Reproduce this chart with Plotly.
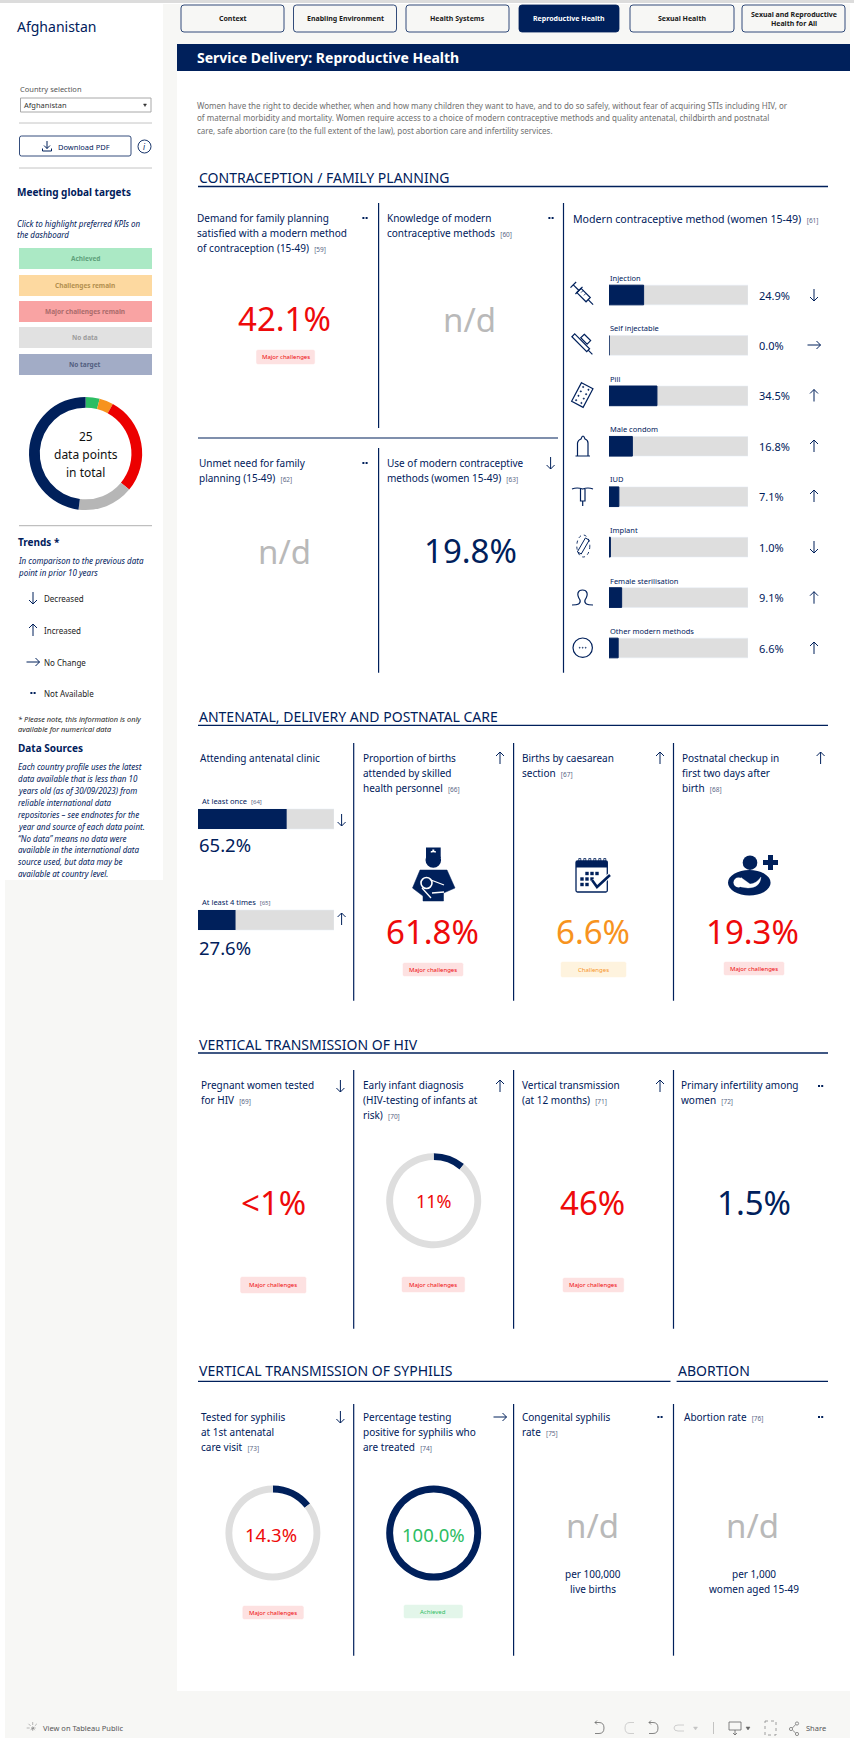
"""
Country profile dashboard: Service Delivery, Reproductive Health (Afghanistan).
Page layout is in pixels on the main axes; bars and rings have their own axes/domains.
"""
import math
import plotly.graph_objects as go

W, H = 854, 1742
NAVY, RED, ORANGE, GREEN = '#00205b', '#ee0a0a', '#f7931e', '#2dbd63'
GREY_TXT, ND, TRACK = '#6f6f6f', '#b9b9b9', '#dedede'
BG = '#f7f7f5'
FONT = 'Noto Sans'

# data
tab_labels = ['Context', 'Enabling Environment', 'Health Systems', 'Reproductive Health',
              'Sexual Health', 'Sexual and Reproductive<br>Health for All']
target_labels = ['Achieved', 'Challenges remain', 'Major challenges remain', 'No data', 'No target']
donut_counts = [1, 1, 7, 4, 12]

method_names = ['Injection', 'Self injectable', 'Pill', 'Male condom', 'IUD', 'Implant',
                'Female sterilisation', 'Other modern methods']
method_shares = [24.9, 0.0, 34.5, 16.8, 7.1, 1.0, 9.1, 6.6]
method_trends = ['down', 'flat', 'up', 'up', 'up', 'down', 'up', 'up']

antenatal_names = ['At least once', 'At least 4 times']
antenatal_shares = [65.2, 27.6]
antenatal_refs = ['[64]', '[65]']
antenatal_trends = ['down', 'up']

early_infant_pct = 11
syphilis_tested_pct = 14.3
syphilis_treated_pct = 100.0

shapes, notes = [], []


def txt(x, y, s, size=10, color=NAVY, anchor='left', bold=False, italic=False):
    if bold:
        s = f'<b>{s}</b>'
    if italic:
        s = f'<i>{s}</i>'
    notes.append(dict(x=x, y=y, xref='x', yref='y', text=s, showarrow=False, xanchor=anchor,
                      yanchor='middle', borderpad=0, font=dict(family=FONT, size=size, color=color)))


def rect(x0, y0, x1, y1, fill=None, line=None, lw=1, layer='below'):
    shapes.append(dict(type='rect', x0=x0, y0=y0, x1=x1, y1=y1, xref='x', yref='y', layer=layer,
                       fillcolor=fill or 'rgba(0,0,0,0)',
                       line=dict(color=line or 'rgba(0,0,0,0)', width=lw if line else 0)))


def hline(x0, x1, y, color=NAVY, lw=1.2):
    shapes.append(dict(type='line', x0=x0, x1=x1, y0=y, y1=y, xref='x', yref='y', layer='above',
                       line=dict(color=color, width=lw)))


def vline(x, y0, y1, color=NAVY, lw=1.2):
    shapes.append(dict(type='line', x0=x, x1=x, y0=y0, y1=y1, xref='x', yref='y', layer='above',
                       line=dict(color=color, width=lw)))


def path(d, color=NAVY, lw=1.2, fill=None, dash=None):
    shapes.append(dict(type='path', path=d, xref='x', yref='y', layer='above',
                       fillcolor=fill or 'rgba(0,0,0,0)',
                       line=dict(color=color, width=lw, dash=dash or 'solid')))


def circle(cx, cy, r, color=NAVY, lw=1.2, fill=None, ry=None, dash=None):
    ry = ry or r
    shapes.append(dict(type='circle', x0=cx - r, x1=cx + r, y0=cy - ry, y1=cy + ry, xref='x', yref='y',
                       layer='above', fillcolor=fill or 'rgba(0,0,0,0)',
                       line=dict(color=color, width=lw, dash=dash or 'solid')))


def round_rect(x0, y0, x1, y1, r=3, fill=None, line=NAVY, lw=1):
    d = (f'M{x0+r},{y0} L{x1-r},{y0} Q{x1},{y0} {x1},{y0+r} L{x1},{y1-r} Q{x1},{y1} {x1-r},{y1} '
         f'L{x0+r},{y1} Q{x0},{y1} {x0},{y1-r} L{x0},{y0+r} Q{x0},{y0} {x0+r},{y0} Z')
    path(d, color=line, lw=lw, fill=fill)


def rot_poly(cx, cy, deg, pts, closed=True):
    a = math.radians(deg)
    out = [(cx + px * math.cos(a) - py * math.sin(a), cy + px * math.sin(a) + py * math.cos(a)) for px, py in pts]
    d = 'M' + ' L'.join(f'{px:.2f},{py:.2f}' for px, py in out)
    return d + (' Z' if closed else '')


def arrow(kind, x, y, color=NAVY):
    if kind == 'down':
        path(f'M{x},{y-6} L{x},{y+6} M{x-4},{y+2} L{x},{y+6} L{x+4},{y+2}', color, lw=1)
    elif kind == 'up':
        path(f'M{x},{y+6} L{x},{y-6} M{x-4},{y-2} L{x},{y-6} L{x+4},{y-2}', color, lw=1)
    elif kind == 'flat':
        path(f'M{x-6.5},{y} L{x+6.5},{y} M{x+2.5},{y-4} L{x+6.5},{y} L{x+2.5},{y+4}', color, lw=1)
    else:
        rect(x - 2.6, y - 1, x - 0.6, y + 1, fill=color, layer='above')
        rect(x + 0.6, y - 1, x + 2.6, y + 1, fill=color, layer='above')


def kpi_title(x, y, lines, ref, step=15.2, size=10):
    for i, s in enumerate(lines):
        if i == len(lines) - 1 and ref:
            s += f'  <span style="font-size:6.5px;color:#5a6785">{ref}</span>'
        txt(x - 1.2, y + i * step, s, size=size)


def badge(x0, y0, x1, y1, label='Major challenges', fill='#fde1e1', color=RED):
    round_rect(x0, y0, x1, y1, r=1.5, fill=fill, line=fill, lw=0.5)
    txt((x0 + x1) / 2, (y0 + y1) / 2, label, size=6, color=color, anchor='center')


def section(x0, x1, y_text, y_rule, label):
    txt(x0, y_text, label, size=14)
    hline(x0, x1, y_rule, lw=1.3)


def domain(cx, cy, r):
    return dict(x=[(cx - r) / W, (cx + r) / W], y=[1 - (cy + r) / H, 1 - (cy - r) / H])


# page background
rect(5, 4, 850, 1738, fill=BG)
rect(0, 0, W, 3, fill='#dcdcdc')
rect(0, 4, 163, 880, fill='white')
rect(177, 71, 850, 1691, fill='white')

# tabs
tab_x = [(181, 284), (293.5, 396.5), (406, 509), (519, 619), (630, 734), (742, 845)]
for (x0, x1), label in zip(tab_x, tab_labels):
    active = label == 'Reproductive Health'
    round_rect(x0, 5, x1, 32, r=3, fill=NAVY if active else BG, line=NAVY, lw=0.8)
    txt((x0 + x1) / 2, 18.5, label, size=7, color='white' if active else '#1a1a1a', anchor='center', bold=True)

rect(177, 44, 850, 71, fill=NAVY)
txt(195.5, 57.5, 'Service Delivery: Reproductive Health', size=14, color='white', bold=True)

intro = ['Women have the right to decide whether, when and how many children they want to have, and to do so safely, without fear of acquiring STIs including HIV, or',
         'of maternal morbidity and mortality. Women require access to a choice of modern contraceptive methods and quality antenatal, childbirth and postnatal',
         'care, safe abortion care (to the full extent of the law), post abortion care and infertility services.']
for y, s in zip([105, 117, 130], intro):
    txt(195.5, y, s, size=8, color=GREY_TXT)

# sidebar
txt(16, 26.5, 'Afghanistan', size=14)
txt(19, 89, 'Country selection', size=7.5, color='#555555')
rect(20.5, 98, 151, 112, fill='white', line='#a8a8a8', lw=1)
txt(22.5, 105, 'Afghanistan', size=7.5, color='#333333')
path('M143.5,104 L146.5,104 L145,106.5 Z', '#333333', 0.5, fill='#333333')
hline(19, 152, 123, color='#c4c4c4', lw=1)
round_rect(19.5, 136, 131, 156, r=2, fill='white', line=NAVY, lw=0.8)
path('M47,141 L47,148.5 M44,145.5 L47,148.5 L50,145.5 M42.5,148.5 L42.5,151 L51.5,151 L51.5,148.5', lw=1)
txt(57, 146.5, 'Download PDF', size=7.5)
circle(144.5, 146.5, 6.5, lw=0.9)
txt(144.5, 146.5, 'i', size=8, anchor='center', italic=True)
hline(19, 152, 168, color='#c4c4c4', lw=1)
txt(16, 192, 'Meeting global targets', size=10, bold=True)
txt(16, 223, 'Click to highlight preferred KPIs on', size=8, italic=True)
txt(16, 234, 'the dashboard', size=8, italic=True)

target_rows = [(248, 269), (275, 296), (301, 322), (327, 348), (354, 375)]
target_fill = ['#abe9c5', '#fdd9a0', '#f9a3a3', '#e1e1e1', '#a2acc6']
target_ink = ['#5fa27c', '#b3904f', '#aa6b6b', '#9c9c9c', '#525e80']
for (y0, y1), label, fc, ink in zip(target_rows, target_labels, target_fill, target_ink):
    rect(19, y0, 152, y1, fill=fc)
    txt(85, (y0 + y1) / 2, label, size=6.5, color=ink, anchor='center', bold=True)

for y, s in zip([436, 454, 472], ['25', 'data points', 'in total']):
    txt(85.5, y, s, size=12, color='#111111', anchor='center')
hline(19, 152, 525.7, color='#b0b0b0', lw=1)
txt(16.5, 542, 'Trends *', size=10, bold=True)
txt(16.5, 560, 'In comparison to the previous data', size=8, italic=True)
txt(16.5, 572, 'point in prior 10 years', size=8, italic=True)
for y, kind, s in zip([598, 630, 662, 693], ['down', 'up', 'flat', 'na'],
                      ['Decreased', 'Increased', 'No Change', 'Not Available']):
    arrow(kind, 33, y)
    txt(42.7, y, s, size=8, color='#222222')
txt(16.5, 719, '* Please note, this information is only', size=7.4, color='#222222', italic=True)
txt(16.5, 729, 'available for numerical data', size=7.4, color='#222222', italic=True)
txt(16.5, 748, 'Data Sources', size=10, bold=True)
sources = ['Each country profile uses the latest', 'data available that is less than 10',
           'years old (as of 30/09/2023) from', 'reliable international data',
           'repositories – see endnotes for the', 'year and source of each data point.',
           '“No data” means no data were', 'available in the international data',
           'source used, but data may be', 'available at country level.']
for y, s in zip([766, 778, 790, 802, 814, 826, 838, 849, 861, 873], sources):
    txt(16.5, y, s, size=8, italic=True)

# contraception block
section(198, 828, 177, 186.5, 'CONTRACEPTION / FAMILY PLANNING')
vline(378.6, 203, 428)
vline(563.5, 203, 672.7)
vline(378.6, 448, 672.7)
hline(198, 558, 438)

kpi_title(197.5, 218, ['Demand for family planning', 'satisfied with a modern method', 'of contraception (15-49)'], '[59]')
arrow('na', 365, 218)
txt(284.5, 318, '42.1%', size=33, color=RED, anchor='center')
badge(256.5, 350, 314.6, 364)

kpi_title(387.6, 218, ['Knowledge of modern', 'contraceptive methods'], '[60]')
arrow('na', 551, 218)
txt(469.8, 319, 'n/d', size=33, color=ND, anchor='center')

kpi_title(199.3, 463, ['Unmet need for family', 'planning (15-49)'], '[62]')
arrow('na', 365, 463)
txt(284, 551, 'n/d', size=33, color=ND, anchor='center')

kpi_title(387.6, 463, ['Use of modern contraceptive', 'methods (women 15-49)'], '[63]')
arrow('down', 550.6, 463)
txt(470, 550, '19.8%', size=33, anchor='center')

kpi_title(573.2, 219, ['Modern contraceptive method (women 15-49)'], '[61]', size=10.6)
method_y = [295, 345, 395.5, 446, 496, 547, 597.7, 648]
for y, name, v, tr in zip(method_y, method_names, method_shares, method_trends):
    txt(609, y - 17, name, size=7.5)
    txt(758, y, f'{v:.1f}%', size=11)
    arrow(tr, 814, y)

# method icons
path(rot_poly(582.5, 294, 45, [(-5, -3), (8, -3), (8, 3), (-5, 3)]))
path(rot_poly(582.5, 294, 45, [(8, 0), (15, 0)], closed=False))
path(rot_poly(582.5, 294, 45, [(-5, 0), (-13, 0)], closed=False))
path(rot_poly(582.5, 294, 45, [(-13, -4), (-13, 4)], closed=False))
path(rot_poly(582.5, 294, 45, [(-5, -5), (-5, 5)], closed=False))
path(rot_poly(582.5, 294, 45, [(-2, -3), (-2, 0)], closed=False), lw=0.8)
path(rot_poly(582.5, 294, 45, [(2, -3), (2, 0)], closed=False), lw=0.8)

path(rot_poly(582.5, 344.5, 45, [(-13, -2), (8, -2), (8, 2), (-13, 2)]))
path(rot_poly(582.5, 344.5, 45, [(8, 0), (14, 0)], closed=False))
path(rot_poly(582.5, 344.5, 45, [(-6, -8.5), (3, -8.5), (3, -3.5), (-6, -3.5)]))

path(rot_poly(582.3, 395, 28, [(-6.5, -10.5), (6.5, -10.5), (6.5, 10.5), (-6.5, 10.5)]))
for i in [-1, 1]:
    for j in [-3, -1, 1, 3]:
        a = math.radians(28)
        px, py = i * 3, j * 2.5
        circle(582.3 + px * math.cos(a) - py * math.sin(a), 395 + px * math.sin(a) + py * math.cos(a), 0.7, lw=0.5, fill=NAVY)

path('M575.5,456 L590,456 M577.5,456 L577.5,443 Q578,440 581,439 Q582,436 583,436 Q584,436 585,439 Q588,440 588,443 L588,456')

path('M572,489 Q577,487 582.7,489 Q588,487 593,489 M580.5,489 L580.5,501 L585,501 L585,489 M582.7,501 L582.7,506')
path(rot_poly(583.3, 546, 30, [(-2.2, -8), (2.2, -8), (2.2, 8), (-2.2, 8)]), lw=1)
circle(583.3, 546, 6.5, lw=0.9, ry=11, dash='dot')
path('M572,605 C578,605 581,604 580,600 C576,594 578,590 582.5,590 C587,590 589,594 585,600 C584,604 587,605 593,605')
circle(582.7, 647.7, 9.7)
for dx in [-3, 0, 3]:
    circle(582.7 + dx, 647.7, 0.5, lw=0.5, fill=NAVY)

# antenatal block
section(198, 828, 716, 725.3, 'ANTENATAL, DELIVERY AND POSTNATAL CARE')
col_x = [353.7, 513.6, 673.5]
for x in col_x:
    vline(x, 743, 1000.7)
kpi_title(200.5, 758, ['Attending antenatal clinic'], None)
for y, name, ref, v, tr, arrow_y, value_y in zip([819, 920], antenatal_names, antenatal_refs, antenatal_shares,
                                                 antenatal_trends, [820, 919], [844, 947]):
    txt(201, y - 18, f'{name}  <span style="font-size:6px;color:#5a6785">{ref}</span>', size=7.5)
    arrow(tr, 341.6, arrow_y)
    txt(198, value_y, f'{v:.1f}%', size=18.5)

kpi_title(362.7, 758, ['Proportion of births', 'attended by skilled', 'health personnel'], '[66]')
arrow('up', 500, 758)
kpi_title(522.6, 758, ['Births by caesarean', 'section'], '[67]')
arrow('up', 660, 758)
kpi_title(682.6, 758, ['Postnatal checkup in', 'first two days after', 'birth'], '[68]')
arrow('up', 820.6, 758)

# nurse
rect(426, 847.5, 440.7, 858, fill=NAVY, layer='above')
rect(432.3, 849.5, 434.3, 854.5, fill='white', layer='above')
rect(430.8, 851, 435.8, 853, fill='white', layer='above')
circle(433.3, 860, 7.8, lw=0, fill=NAVY)
path('M420,870 L447,870 L455,888 L443.5,893 L443.5,901 L423,901 L423,896 L412.5,888 Z', lw=0.5, fill=NAVY)
circle(426.5, 883, 5.5, color='white', lw=1.6)
path('M431,880 L444,885 M422,888 L431,898 M432,893 L444,892', color='white', lw=1.3)

# calendar
round_rect(576, 861, 607.3, 892, r=1.5, fill='white', lw=1.3)
rect(576, 861, 607.3, 867.5, fill=NAVY, layer='above')
for x in [580, 585, 590, 595, 600, 605]:
    path(f'M{x-1.2},866 L{x-1.2},858.5 L{x+0.8},858.5 L{x+0.8},866', lw=0.8)
for cx, cy in [(587, 873.5), (592, 873.5), (597, 873.5), (582, 879), (587, 879), (592, 879), (582, 884.5), (587, 884.5)]:
    rect(cx - 1.7, cy - 1.7, cx + 1.7, cy + 1.7, fill=NAVY, layer='above')
path('M592,880 L597,887 L610,875', color='white', lw=4.5)
path('M592,880 L597,887 L610,875', lw=2.6)

# mother and baby
circle(750, 862.7, 7.3, lw=0, fill=NAVY)
rect(768, 855, 773, 870, fill=NAVY, layer='above')
rect(763, 860, 778, 865, fill=NAVY, layer='above')
circle(749.3, 882.7, 21.3, lw=0, fill=NAVY, ry=12.7)
circle(738.5, 882.5, 5, lw=0, fill='white')
path('M741,877.5 L750,884 Q756,884 761,877 Q760,888 748,888 L741,887 Z', color='white', lw=0.3, fill='white')

txt(432.8, 931, '61.8%', size=33, color=RED, anchor='center')
txt(592.7, 931, '6.6%', size=33, color=ORANGE, anchor='center')
txt(752.7, 931, '19.3%', size=33, color=RED, anchor='center')
badge(403, 963, 463, 976)
badge(561, 962, 626, 977, 'Challenges', '#fef3de', ORANGE)
badge(724, 962, 784, 975)

# HIV block
section(198, 828, 1044, 1053, 'VERTICAL TRANSMISSION OF HIV')
for x in col_x:
    vline(x, 1070, 1328.7)
kpi_title(201.5, 1085, ['Pregnant women tested', 'for HIV'], '[69]')
arrow('down', 340.4, 1086)
kpi_title(362.7, 1085, ['Early infant diagnosis', '(HIV-testing of infants at', 'risk)'], '[70]')
arrow('up', 500, 1086)
kpi_title(522.6, 1085, ['Vertical transmission', '(at 12 months)'], '[71]')
arrow('up', 660, 1086)
kpi_title(681.3, 1085, ['Primary infertility among', 'women'], '[72]')
arrow('na', 820.6, 1086)
txt(273, 1202, '&lt;1%', size=33, color=RED, anchor='center')
txt(433.7, 1201, f'{early_infant_pct}%', size=18, color=RED, anchor='center')
txt(592.7, 1202, '46%', size=33, color=RED, anchor='center')
txt(753.5, 1202, '1.5%', size=33, anchor='center')
badge(240.6, 1277, 306, 1293)
badge(402, 1277, 464.6, 1292)
badge(563, 1278, 623.7, 1292)

# syphilis + abortion block
section(198, 670.5, 1370, 1381.3, 'VERTICAL TRANSMISSION OF SYPHILIS')
section(676.6, 828, 1370, 1381.3, 'ABORTION')
for x in col_x:
    vline(x, 1404, 1655.7)
kpi_title(201.5, 1416.7, ['Tested for syphilis', 'at 1st antenatal', 'care visit'], '[73]')
arrow('down', 340.4, 1417)
kpi_title(362.7, 1416.7, ['Percentage testing', 'positive for syphilis who', 'are treated'], '[74]')
arrow('flat', 500, 1417)
kpi_title(522.6, 1416.7, ['Congenital syphilis', 'rate'], '[75]')
arrow('na', 660, 1417)
kpi_title(684, 1416.7, ['Abortion rate'], '[76]')
arrow('na', 820.6, 1417)
txt(271, 1534, f'{syphilis_tested_pct:.1f}%', size=18.5, color=RED, anchor='center')
txt(433.7, 1534, f'{syphilis_treated_pct:.1f}%', size=18.5, color=GREEN, anchor='center')
txt(592, 1525, 'n/d', size=33, color=ND, anchor='center')
txt(752.7, 1525, 'n/d', size=33, color=ND, anchor='center')
txt(593, 1574, 'per 100,000', size=10, anchor='center')
txt(593, 1589, 'live births', size=10, anchor='center')
txt(753.5, 1574, 'per 1,000', size=10, anchor='center')
txt(753.5, 1589, 'women aged 15-49', size=10, anchor='center')
badge(242.8, 1606, 303.4, 1619)
badge(404, 1605, 462.5, 1618, 'Achieved', '#e3f6ea', GREEN)

# footer toolbar
FT = '#8a8a8a'
circle(32.7, 1728, 1, color=FT, lw=0.8)
path('M32.7,1722 L32.7,1734 M26.7,1728 L38.7,1728 M28.5,1723.8 L36.9,1732.2 M36.9,1723.8 L28.5,1732.2', FT, 0.6, dash='dot')
txt(42, 1728, 'View on Tableau Public', size=7.5, color='#555555')
path('M595,1722.5 L599,1722.5 Q604,1722.5 604,1728 Q604,1733.5 599,1733.5 L595,1733.5 M597,1720.5 L595,1722.5 L597,1724.5', '#666666', 0.8)
path('M634,1722.5 L630,1722.5 Q625,1722.5 625,1728 Q625,1733.5 630,1733.5 L634,1733.5', '#c4c4c4', 0.8)
path('M649,1722.5 L653,1722.5 Q658,1722.5 658,1728 Q658,1733.5 653,1733.5 L649,1733.5 M651,1720.5 L649,1722.5 L651,1724.5', '#666666', 0.8)
path('M684,1725 L678,1725 Q674,1725 674,1728 Q674,1731 678,1731 L684,1731', '#c4c4c4', 0.8)
path('M693.5,1727 L697.5,1727 L695.5,1730 Z', '#c4c4c4', 0.5, fill='#c4c4c4')
vline(713.5, 1722, 1734, color='#b5b5b5', lw=0.8)
path('M729,1722 L741,1722 L741,1730 L729,1730 Z M735,1730 L735,1735 M733,1733 L735,1735 L737,1733', '#666666', 0.8)
path('M746,1727 L750,1727 L748,1730 Z', '#666666', 0.5, fill='#666666')
path('M765,1721 L776,1721 L776,1735 L765,1735 Z', '#888888', 0.8, dash='dot')
circle(791, 1729, 1.6, color='#666666', lw=0.7)
circle(797, 1723.5, 1.6, color='#666666', lw=0.7)
circle(797, 1734, 1.6, color='#666666', lw=0.7)
path('M792.4,1728 L795.6,1724.6 M792.4,1730 L795.6,1733', '#666666', 0.7)
txt(805, 1728, 'Share', size=7.5, color='#555555')

fig = go.Figure()

# contraceptive method bars, 0-100 scale
bar_full = 100
fig.add_trace(go.Bar(y=method_names, x=[bar_full] * len(method_names), orientation='h', marker_color=TRACK,
                     width=0.39, xaxis='x2', yaxis='y2', showlegend=False, hoverinfo='skip'))
fig.add_trace(go.Bar(y=method_names, x=method_shares, orientation='h', width=0.39,
                     marker=dict(color=NAVY, line=dict(color=NAVY, width=1)),
                     xaxis='x2', yaxis='y2', showlegend=False))

# antenatal bars
fig.add_trace(go.Bar(y=antenatal_names, x=[bar_full] * len(antenatal_names), orientation='h', marker_color=TRACK,
                     width=0.198, xaxis='x3', yaxis='y3', showlegend=False, hoverinfo='skip'))
fig.add_trace(go.Bar(y=antenatal_names, x=antenatal_shares, orientation='h', width=0.198,
                     marker=dict(color=NAVY, line=dict(color=NAVY, width=0)),
                     xaxis='x3', yaxis='y3', showlegend=False))

# rings
fig.add_trace(go.Pie(values=donut_counts, labels=target_labels,
                     marker=dict(colors=[GREEN, ORANGE, '#ec0000', '#b6b6b6', NAVY], line=dict(width=0)),
                     hole=0.81, sort=False, direction='clockwise', rotation=0, textinfo='none', showlegend=False,
                     domain=domain(85.6, 453.5, 56.6)))
for (cx, cy), v in zip([(433.7, 1200.7), (272.9, 1533), (433.7, 1533)],
                       [early_infant_pct, syphilis_tested_pct, syphilis_treated_pct]):
    fig.add_trace(go.Pie(values=[v, 100 - v], marker=dict(colors=[NAVY, TRACK], line=dict(width=0)),
                         hole=0.855, sort=False, direction='clockwise', rotation=0, textinfo='none',
                         showlegend=False, domain=domain(cx, cy, 47.5)))


def y_dom(top, bottom):
    return [1 - bottom / H, 1 - top / H]


fig.update_layout(
    width=W, height=H, margin=dict(l=0, r=0, t=0, b=0), autosize=False,
    paper_bgcolor='white', plot_bgcolor='rgba(0,0,0,0)', barmode='overlay',
    font=dict(family=FONT, color=NAVY), showlegend=False,
    xaxis=dict(range=[0, W], domain=[0, 1], visible=False, fixedrange=True),
    yaxis=dict(range=[H, 0], domain=[0, 1], visible=False, fixedrange=True),
    xaxis2=dict(range=[0, bar_full], domain=[609 / W, 748 / W], anchor='y2', visible=False, fixedrange=True),
    yaxis2=dict(type='category', categoryorder='array', categoryarray=method_names, range=[7.5, -0.5],
                domain=y_dom(269.8, 673.2), anchor='x2', visible=False, fixedrange=True),
    xaxis3=dict(range=[0, bar_full], domain=[198 / W, 334 / W], anchor='y3', visible=False, fixedrange=True),
    yaxis3=dict(type='category', categoryorder='array', categoryarray=antenatal_names, range=[1.5, -0.5],
                domain=y_dom(768.5, 970.5), anchor='x3', visible=False, fixedrange=True),
    shapes=shapes, annotations=notes,
)

fig.write_html('out.html', config={'displayModeBar': False},
               post_script="document.body.style.margin='0';document.body.style.overflow='hidden';")
